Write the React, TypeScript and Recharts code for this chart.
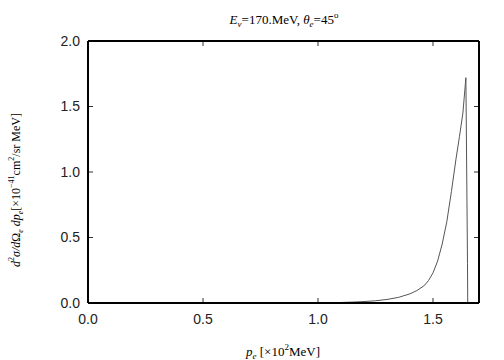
import { LineChart, Line, XAxis, YAxis, ReferenceLine } from 'recharts';

// momentum p_e in units of 10^2 MeV, cross section in 10^-41 cm^2/sr MeV
const momentum = [
  1.0, 1.05, 1.1, 1.15, 1.2, 1.25, 1.3, 1.35, 1.4, 1.43, 1.46, 1.48, 1.5, 1.52,
  1.54, 1.56, 1.58, 1.6, 1.615, 1.63, 1.643, 1.65, 1.651,
];
const crossSection = [
  0, 0.002, 0.004, 0.007, 0.011, 0.017, 0.027, 0.043, 0.07, 0.095, 0.13, 0.17,
  0.23, 0.32, 0.45, 0.62, 0.85, 1.1, 1.27, 1.45, 1.72, 0.3, 0,
];
const xTicks = [0, 0.5, 1.0, 1.5];
const yTicks = [0, 0.5, 1.0, 1.5, 2.0];

const X_MAX = 1.7;
const Y_MAX = 2;
// inward tick mark lengths in data units (about 5px each way)
const X_TICK_LEN = 0.038;
const Y_TICK_LEN = 0.022;

const data = momentum.map((p, i) => ({ p, s: crossSection[i] }));

const sans = '"Liberation Sans", Arial, sans-serif';
const serif = '"Liberation Serif", "Times New Roman", serif';
const tickStroke = '#333';

const BottomTick = ({ x, y, payload }: any) => (
  <text x={x} y={y} dy="0.71em" textAnchor="middle" fontFamily={sans} fontSize={14} fill="#222">
    {Number(payload.value).toFixed(1)}
  </text>
);
const LeftTick = ({ x, y, payload }: any) => (
  <text x={x} y={y} dy="0.355em" textAnchor="end" fontFamily={sans} fontSize={14} fill="#222">
    {Number(payload.value).toFixed(1)}
  </text>
);

const frame = { stroke: '#000', strokeWidth: 2 };

export default function App() {
  return (
    <div style={{ position: 'absolute', left: 0, top: 0, width: 504, height: 360, background: '#fff' }}>
      <LineChart width={504} height={360} data={data} margin={{ top: 40, right: 24, bottom: 0, left: 0 }}>
        <XAxis
          xAxisId="b"
          dataKey="p"
          type="number"
          domain={[0, X_MAX]}
          ticks={xTicks}
          height={57}
          tickSize={0}
          tickMargin={11}
          tickLine={false}
          tick={BottomTick}
          axisLine={frame}
        />
        <XAxis
          xAxisId="t"
          orientation="top"
          dataKey="p"
          type="number"
          domain={[0, X_MAX]}
          ticks={xTicks}
          height={1}
          tickSize={0}
          tickLine={false}
          tick={false}
          axisLine={frame}
        />
        <YAxis
          yAxisId="l"
          type="number"
          domain={[0, Y_MAX]}
          ticks={yTicks}
          width={88}
          tickSize={0}
          tickMargin={8}
          tickLine={false}
          tick={LeftTick}
          axisLine={frame}
        />
        <YAxis
          yAxisId="r"
          orientation="right"
          type="number"
          domain={[0, Y_MAX]}
          ticks={yTicks}
          width={1}
          tickSize={0}
          tickLine={false}
          tick={false}
          axisLine={frame}
        />
        {xTicks.map((t) => (
          <ReferenceLine
            key={`xb-${t}`}
            xAxisId="b"
            yAxisId="l"
            segment={[{ x: t, y: 0 }, { x: t, y: X_TICK_LEN }]}
            stroke={tickStroke}
          />
        ))}
        {xTicks.map((t) => (
          <ReferenceLine
            key={`xt-${t}`}
            xAxisId="b"
            yAxisId="l"
            segment={[{ x: t, y: Y_MAX - X_TICK_LEN }, { x: t, y: Y_MAX }]}
            stroke={tickStroke}
          />
        ))}
        {yTicks.map((t) => (
          <ReferenceLine
            key={`yl-${t}`}
            xAxisId="b"
            yAxisId="l"
            segment={[{ x: 0, y: t }, { x: Y_TICK_LEN, y: t }]}
            stroke={tickStroke}
          />
        ))}
        {yTicks.map((t) => (
          <ReferenceLine
            key={`yr-${t}`}
            xAxisId="b"
            yAxisId="l"
            segment={[{ x: X_MAX - Y_TICK_LEN, y: t }, { x: X_MAX, y: t }]}
            stroke={tickStroke}
          />
        ))}
        <Line
          xAxisId="b"
          yAxisId="l"
          dataKey="s"
          type="linear"
          stroke="#555"
          strokeWidth={1}
          dot={false}
          isAnimationActive={false}
        />
      </LineChart>
      <svg width={504} height={360} style={{ position: 'absolute', left: 0, top: 0, pointerEvents: 'none' }}>
        <text x={284} y={24} textAnchor="middle" fontFamily={serif} fontSize={13} fill="#000">
          <tspan fontStyle="italic">E</tspan>
          <tspan fontStyle="italic" fontSize={9} dy={3}>ν</tspan>
          <tspan dy={-3}>=170.MeV,  </tspan>
          <tspan fontStyle="italic">θ</tspan>
          <tspan fontStyle="italic" fontSize={9} dy={3}>e</tspan>
          <tspan dy={-3}>=45</tspan>
          <tspan fontSize={9} dy={-6}>o</tspan>
        </text>
        <text x={283} y={356} textAnchor="middle" fontFamily={serif} fontSize={13} fill="#000">
          <tspan fontStyle="italic">p</tspan>
          <tspan fontStyle="italic" fontSize={9} dy={3}>e</tspan>
          <tspan dy={-3}> [×10</tspan>
          <tspan fontSize={9} dy={-6}>2</tspan>
          <tspan dy={6}>MeV]</tspan>
        </text>
        <text
          x={0}
          y={0}
          transform="translate(20,190) rotate(-90)"
          textAnchor="middle"
          fontFamily={serif}
          fontSize={12}
          fill="#000"
        >
          <tspan fontStyle="italic">d</tspan>
          <tspan fontSize={8} dy={-6}>2</tspan>
          <tspan fontStyle="italic" dy={6}>σ/d</tspan>
          <tspan>Ω</tspan>
          <tspan fontStyle="italic" fontSize={8} dy={3}>e</tspan>
          <tspan fontStyle="italic" dy={-3}> dp</tspan>
          <tspan fontStyle="italic" fontSize={8} dy={3}>e</tspan>
          <tspan dy={-3}>[×10</tspan>
          <tspan fontSize={8} dy={-6}>−41</tspan>
          <tspan dy={6}>cm</tspan>
          <tspan fontSize={8} dy={-6}>2</tspan>
          <tspan dy={6}>/sr MeV]</tspan>
        </text>
      </svg>
    </div>
  );
}
